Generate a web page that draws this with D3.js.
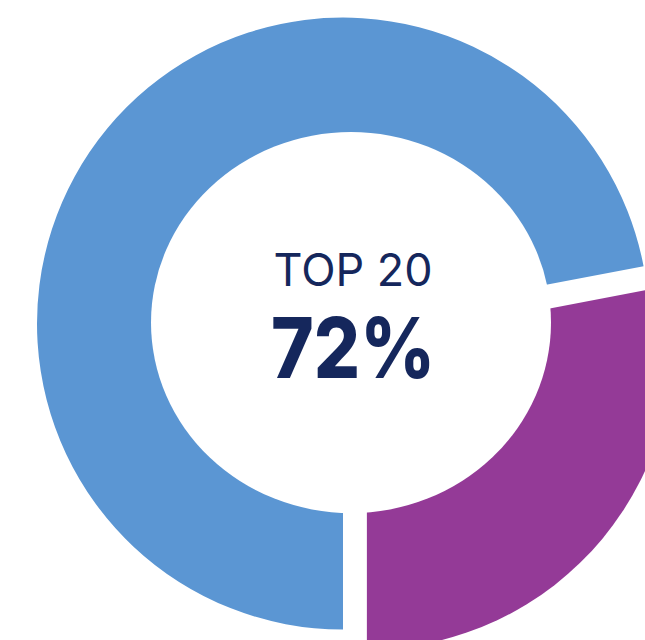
<!DOCTYPE html>
<html>
<head>
<meta charset="utf-8">
<script src="https://cdn.jsdelivr.net/npm/d3@7"></script>
<style>
  html, body { margin: 0; padding: 0; background: #fff; }
  svg { display: block; }
</style>
</head>
<body>
<svg id="chart"></svg>
<script>
"use strict"

// share of the top 20 vs the rest
const labels = ["Top 20", "Rest"]
const values = [72, 28]
const colors = ["#5b96d3", "#943a97"]
const exploded = [false, true]

const title = "TOP 20"
const bigLabel = "72%"

document.addEventListener("DOMContentLoaded", () => {

    const width = 645, height = 640
    const svg = d3.select("#chart")
        .attr("width", width)
        .attr("height", height)

    const cx = 343, cy = 323.6
    const radius = 306
    const explode = 31

    const pie = d3.pie()
        .sort(null)
        .value(d => d)
        .startAngle(Math.PI)
        .endAngle(3 * Math.PI)

    const arc = d3.arc()
        .innerRadius(0)
        .outerRadius(radius)

    const g = svg.append("g").attr("transform", `translate(${cx},${cy})`)

    g.selectAll("path.slice")
        .data(pie(values))
        .join("path")
        .attr("class", "slice")
        .attr("fill", (d, i) => colors[i])
        .attr("d", arc)
        .attr("transform", (d, i) => {
            if (!exploded[i]) return null
            let mid = (d.startAngle + d.endAngle) / 2
            return `translate(${explode * Math.sin(mid)},${-explode * Math.cos(mid)})`
        })

    // white hole in the middle (slightly wider than tall, like the source)
    svg.append("ellipse")
        .attr("cx", cx + 8)
        .attr("cy", cy - 1)
        .attr("rx", 200)
        .attr("ry", 190.5)
        .attr("fill", "#fff")

    const tx = 353
    svg.append("text")
        .attr("x", tx)
        .attr("y", 286)
        .attr("text-anchor", "middle")
        .attr("font-family", "Inter, 'Open Sans', sans-serif")
        .attr("font-weight", 400)
        .attr("font-size", 45)
        .attr("textLength", 159)
        .attr("lengthAdjust", "spacingAndGlyphs")
        .attr("fill", "#15275c")
        .text(title)

    svg.append("text")
        .attr("x", tx)
        .attr("y", 378)
        .attr("text-anchor", "middle")
        .attr("font-family", "Inter, 'Open Sans', sans-serif")
        .attr("font-weight", 800)
        .attr("font-size", 84)
        .attr("textLength", 164)
        .attr("lengthAdjust", "spacingAndGlyphs")
        .attr("fill", "#15275c")
        .text(bigLabel)
})
</script>
</body>
</html>
